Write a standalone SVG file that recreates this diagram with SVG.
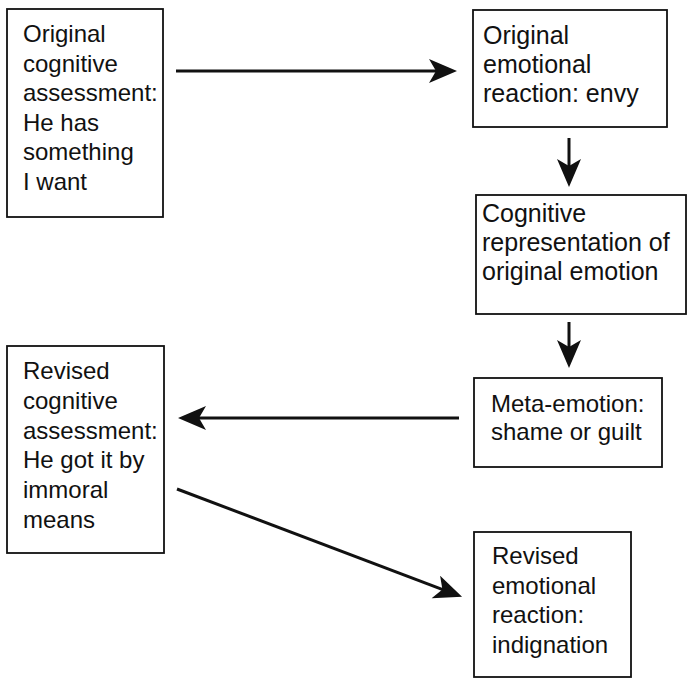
<svg xmlns="http://www.w3.org/2000/svg" width="688" height="678" viewBox="0 0 688 678">
<style>
.box{fill:#fff;stroke:#111;stroke-width:1.8}
.t{font-family:"Liberation Sans",Arial,Helvetica,sans-serif;font-size:24px;fill:#111}
.t2{font-size:25px}
.c{stroke:#111;stroke-width:3;fill:none}
</style>
<defs>
<marker id="ah" markerUnits="userSpaceOnUse" markerWidth="32" markerHeight="26" refX="18" refY="12" orient="auto">
<path d="M0,0 L28,12 L0,24 L7,12 Z" fill="#111"/>
</marker>
</defs>
<rect width="688" height="678" fill="#fff"/>
<g id="n1">
<rect class="box" x="7" y="9" width="156" height="208"/>
<text class="t" x="23" y="42">Original</text>
<text class="t" x="23" y="72">cognitive</text>
<text class="t" x="23" y="101">assessment:</text>
<text class="t" x="23" y="131">He has</text>
<text class="t" x="23" y="160">something</text>
<text class="t" x="23" y="190">I want</text>
</g>
<g id="n2">
<rect class="box" x="473" y="10" width="194" height="117"/>
<text class="t t2" x="483" y="44">Original</text>
<text class="t t2" x="483" y="73">emotional</text>
<text class="t t2" x="483" y="102">reaction: envy</text>
</g>
<g id="n3">
<rect class="box" x="476" y="195" width="210" height="119"/>
<text class="t t2" x="482" y="222">Cognitive</text>
<text class="t t2" x="482" y="251">representation of</text>
<text class="t t2" x="482" y="280">original emotion</text>
</g>
<g id="n4">
<rect class="box" x="474" y="378" width="188" height="89"/>
<text class="t" x="491" y="412">Meta-emotion:</text>
<text class="t" x="491" y="440">shame or guilt</text>
</g>
<g id="n5">
<rect class="box" x="7" y="346" width="157" height="207"/>
<text class="t" x="23" y="379">Revised</text>
<text class="t" x="23" y="409">cognitive</text>
<text class="t" x="23" y="439">assessment:</text>
<text class="t" x="23" y="468">He got it by</text>
<text class="t" x="23" y="498">immoral</text>
<text class="t" x="23" y="528">means</text>
</g>
<g id="n6">
<rect class="box" x="474" y="532" width="157" height="145"/>
<text class="t" x="492" y="564">Revised</text>
<text class="t" x="492" y="594">emotional</text>
<text class="t" x="492" y="623">reaction:</text>
<text class="t" x="492" y="653">indignation</text>
</g>
<g id="connectors">
<line class="c" x1="176" y1="71" x2="447" y2="71" marker-end="url(#ah)"/>
<line class="c" x1="569" y1="138" x2="569" y2="177" marker-end="url(#ah)"/>
<line class="c" x1="569" y1="322" x2="569" y2="358" marker-end="url(#ah)"/>
<line class="c" x1="459" y1="418" x2="188" y2="418" marker-end="url(#ah)"/>
<line class="c" x1="177" y1="489" x2="452.7" y2="593.3" marker-end="url(#ah)"/>
</g>
</svg>
